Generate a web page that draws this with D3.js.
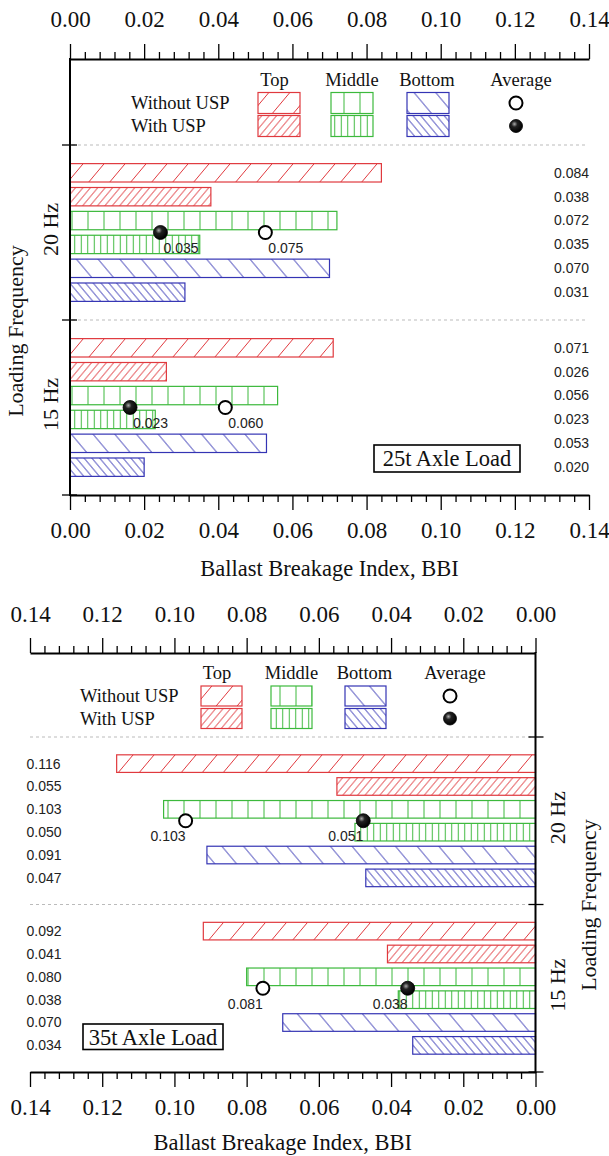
<!DOCTYPE html>
<html>
<head>
<meta charset="utf-8">
<script src="https://cdn.jsdelivr.net/npm/d3@7"></script>
<style>
  body { margin: 0; background: #fff; }
  text { font-family: "Liberation Serif", "Times New Roman", serif; fill: #111; }
  .val { font-family: "Liberation Sans", Arial, sans-serif; font-size: 14px; fill: #222; }
</style>
</head>
<body>
<script>
// ---- data ----
const zones = ["Top", "Middle", "Bottom"];
const conditions = ["Without USP", "With USP"];
const frequencies = ["20 Hz", "15 Hz"];
const majorTicks = [0, 0.02, 0.04, 0.06, 0.08, 0.10, 0.12, 0.14];
const minorTicks = [0.004, 0.008, 0.012, 0.016, 0.024, 0.028, 0.032, 0.036,
  0.044, 0.048, 0.052, 0.056, 0.064, 0.068, 0.072, 0.076, 0.084, 0.088, 0.092, 0.096,
  0.104, 0.108, 0.112, 0.116, 0.124, 0.128, 0.132, 0.136];

// rows: Top w/o, Top with, Middle w/o, Middle with, Bottom w/o, Bottom with
const bbi25at20 = [0.084, 0.038, 0.072, 0.035, 0.070, 0.031];
const bbi25at15 = [0.071, 0.026, 0.056, 0.023, 0.053, 0.020];
const bbi35at20 = [0.116, 0.055, 0.103, 0.050, 0.091, 0.047];
const bbi35at15 = [0.092, 0.041, 0.080, 0.038, 0.070, 0.034];

// average markers (where they are drawn) and the numbers printed next to them
const avg25Without = [0.0527, 0.0419];
const avg25With = [0.0244, 0.0162];
const avg25WithoutText = ["0.075", "0.060"];
const avg25WithText = ["0.035", "0.023"];
const avg35Without = [0.0969, 0.0755];
const avg35With = [0.0477, 0.0354];
const avg35WithoutText = ["0.103", "0.081"];
const avg35WithText = ["0.051", "0.038"];

// ---- styles ----
const zoneColor = { Top: "#e0393e", Middle: "#3cb93c", Bottom: "#3434b4" };
// hatch: spacing (px) and skew angle per zone/condition
const hatchStyle = {
  Top: [[21, -40], [7.4, -40]],
  Middle: [[16, 0], [6.5, 0]],
  Bottom: [[21.7, 40], [7.8, 40]]
};

const W = 609, H = 1156;
const svg = d3.select("body").append("svg").attr("width", W).attr("height", H);
const defs = svg.append("defs");

// patterns
zones.forEach(z => {
  hatchStyle[z].forEach(([sp, ang], i) => {
    const p = defs.append("pattern")
      .attr("id", `h-${z}-${i}`)
      .attr("patternUnits", "userSpaceOnUse")
      .attr("width", sp).attr("height", 40)
      .attr("patternTransform", `skewX(${ang})`);
    p.append("line")
      .attr("x1", sp / 2).attr("x2", sp / 2)
      .attr("y1", -1).attr("y2", 41)
      .attr("stroke", zoneColor[z]).attr("stroke-width", 1);
  });
});

// shiny black ball
const grad = defs.append("radialGradient").attr("id", "ball")
  .attr("cx", "38%").attr("cy", "35%").attr("r", "65%");
grad.append("stop").attr("offset", "0%").attr("stop-color", "#aaa");
grad.append("stop").attr("offset", "35%").attr("stop-color", "#222");
grad.append("stop").attr("offset", "100%").attr("stop-color", "#000");

const panels = [
  {
    flip: false, left: 70, right: 589, top: 59, sep: 145, bottom: 495,
    data: [bbi25at20, bbi25at15],
    avgWithout: avg25Without, avgWith: avg25With,
    avgWithoutText: avg25WithoutText, avgWithText: avg25WithText,
    tickLabelY: 19, tickLabelBottomY: 530, titleY: 568,
    freqX: 58, loadX: 23, loadY: 331,
    valueX: 589,
    legend: { labelX: 131, headerY: 80, rowY: [103, 126], swX: [258, 331, 407], swW: 42, swH: 21, avgX: 516 },
    box: { x: 374, y: 445, w: 146, h: 27, label: "25t Axle Load" }
  },
  {
    flip: true, left: 30, right: 535.5, top: 653, sep: 737, bottom: 1072,
    data: [bbi35at20, bbi35at15],
    avgWithout: avg35Without, avgWith: avg35With,
    avgWithoutText: avg35WithoutText, avgWithText: avg35WithText,
    tickLabelY: 614, tickLabelBottomY: 1107, titleY: 1142,
    freqX: 565, loadX: 596, loadY: 905,
    valueX: 26.5,
    legend: { labelX: 80, headerY: 673, rowY: [696, 718.5], swX: [201, 271, 345], swW: 41, swH: 20, avgX: 450 },
    box: { x: 83, y: 1024, w: 140, h: 25.5, label: "35t Axle Load" }
  }
];

const headerShift = [-4.5, 0, -1, 5];

function drawPanel(p) {
  const g = svg.append("g");
  const x = d3.scaleLinear()
    .domain(p.flip ? [0.14, 0] : [0, 0.14])
    .range([p.left, p.right]);
  const x0 = x(0);
  const yGroup = d3.scaleBand().domain(frequencies).range([p.sep, p.bottom]);
  const yRow = d3.scaleBand().domain(d3.range(6))
    .range([0, yGroup.bandwidth()])
    .paddingInner(0.23).paddingOuter(0.78);

  // dashed separators
  [p.sep, yGroup("15 Hz")].forEach(y => {
    g.append("line")
      .attr("x1", p.flip ? p.left : x0 + 2).attr("x2", p.flip ? x0 - 2 : p.right - 4)
      .attr("y1", y).attr("y2", y)
      .attr("stroke", "#bbb").attr("stroke-dasharray", "3,3").attr("stroke-width", 1);
  });

  // bars
  const rows = [];
  frequencies.forEach((f, fi) => {
    zones.forEach((z, zi) => {
      conditions.forEach((c, ci) => {
        const k = zi * 2 + ci;
        rows.push({ f, z, ci, k, v: p.data[fi][k] });
      });
    });
  });
  const yOf = d => yGroup(d.f) + yRow(d.k);

  g.selectAll("rect.bar").data(rows).enter().append("rect")
    .attr("class", "bar")
    .attr("x", d => Math.min(x0, x(d.v)))
    .attr("width", d => Math.abs(x(d.v) - x0))
    .attr("y", yOf)
    .attr("height", yRow.bandwidth())
    .attr("fill", d => `url(#h-${d.z}-${d.ci})`)
    .attr("stroke", d => zoneColor[d.z])
    .attr("stroke-width", 1.2);

  // value labels
  g.selectAll("text.val").data(rows).enter().append("text")
    .attr("class", "val")
    .attr("x", p.valueX)
    .attr("y", d => yOf(d) + yRow.bandwidth() / 2)
    .attr("dy", "0.35em")
    .attr("text-anchor", p.flip ? "start" : "end")
    .text(d => d.v.toFixed(3));

  // averages
  frequencies.forEach((f, fi) => {
    const ym = yGroup(f) + (yRow(2) + yRow(3) + yRow.bandwidth()) / 2;
    [[p.avgWithout[fi], p.avgWithoutText[fi], false], [p.avgWith[fi], p.avgWithText[fi], true]]
      .forEach(([v, t, filled]) => {
        const cx = x(v);
        g.append("circle")
          .attr("cx", cx).attr("cy", ym).attr("r", filled ? 7 : 6.5)
          .attr("fill", filled ? "url(#ball)" : "#fff")
          .attr("stroke", "#000").attr("stroke-width", filled ? 0.8 : 2);
        g.append("text").attr("class", "val")
          .attr("x", p.flip ? cx : cx + 3)
          .attr("y", ym + 15.5).attr("dy", "0.35em")
          .attr("text-anchor", p.flip ? "end" : "start")
          .text(t);
      });
  });

  // top axis
  const topAx = g.append("g").attr("transform", `translate(0,${p.top})`)
    .call(d3.axisTop(x).tickValues(majorTicks).tickFormat(d3.format(".2f")).tickSize(15).tickSizeOuter(0));
  g.append("g").attr("transform", `translate(0,${p.top})`)
    .call(d3.axisTop(x).tickValues(minorTicks).tickFormat("").tickSize(7).tickSizeOuter(0))
    .select(".domain").remove();
  const botAx = g.append("g").attr("transform", `translate(0,${p.bottom})`)
    .call(d3.axisBottom(x).tickValues(majorTicks).tickFormat(d3.format(".2f")).tickSize(15).tickSizeOuter(0));
  g.append("g").attr("transform", `translate(0,${p.bottom})`)
    .call(d3.axisBottom(x).tickValues(minorTicks).tickFormat("").tickSize(7).tickSizeOuter(0))
    .select(".domain").remove();

  topAx.selectAll("text").attr("y", p.tickLabelY - p.top).attr("dy", "0.35em");
  botAx.selectAll("text").attr("y", p.tickLabelBottomY - p.bottom).attr("dy", "0.35em");
  g.selectAll(".tick text")
    .style("font-family", '"Liberation Serif", serif').style("font-size", "23px").attr("fill", "#111");
  g.selectAll(".domain").attr("stroke", "#000").attr("stroke-width", 2);
  g.selectAll(".tick line").attr("stroke", "#000").attr("stroke-width", 1.3);

  // value axis line (left or right)
  g.append("line").attr("x1", x0).attr("x2", x0)
    .attr("y1", p.top - 1).attr("y2", p.bottom + 1)
    .attr("stroke", "#000").attr("stroke-width", 2);
  const out = p.flip ? 1 : -1;
  [p.sep, yGroup("15 Hz"), p.bottom].forEach(y => {
    g.append("line")
      .attr("x1", x0 + out * 8).attr("x2", x0 - out * 7)
      .attr("y1", y).attr("y2", y)
      .attr("stroke", "#000").attr("stroke-width", 1.3);
  });

  // axis title
  g.append("text")
    .attr("x", (p.left + p.right) / 2).attr("y", p.titleY).attr("dy", "0.35em")
    .attr("text-anchor", "middle").style("font-size", "22.5px")
    .text("Ballast Breakage Index, BBI");

  // frequency labels
  frequencies.forEach(f => {
    g.append("text")
      .attr("transform", `translate(${p.freqX},${yGroup(f) + yGroup.bandwidth() / 2 - 3}) rotate(-90)`)
      .attr("text-anchor", "middle").style("font-size", "22px")
      .text(f);
  });
  g.append("text")
    .attr("transform", `translate(${p.loadX},${p.loadY}) rotate(-90)`)
    .attr("text-anchor", "middle").style("font-size", "22px")
    .text("Loading Frequency");

  // legend
  const L = p.legend;
  zones.concat(["Average"]).forEach((h, i) => {
    const cx = i < 3 ? L.swX[i] + L.swW / 2 : L.avgX;
    g.append("text").attr("x", cx + headerShift[i]).attr("y", L.headerY).attr("dy", "0.35em")
      .attr("text-anchor", "middle").style("font-size", "18.5px").text(h);
  });
  conditions.forEach((c, ci) => {
    const ry = L.rowY[ci];
    g.append("text").attr("x", L.labelX).attr("y", ry).attr("dy", "0.35em")
      .style("font-size", "18.5px").text(c);
    zones.forEach((z, zi) => {
      g.append("rect")
        .attr("x", L.swX[zi]).attr("y", ry - L.swH / 2)
        .attr("width", L.swW).attr("height", L.swH)
        .attr("fill", `url(#h-${z}-${ci})`)
        .attr("stroke", zoneColor[z]).attr("stroke-width", 1.2);
    });
    g.append("circle").attr("cx", L.avgX).attr("cy", ry).attr("r", 6.5)
      .attr("fill", ci ? "url(#ball)" : "#fff")
      .attr("stroke", "#000").attr("stroke-width", ci ? 0.8 : 2);
  });

  // axle load box
  const B = p.box;
  g.append("rect").attr("x", B.x).attr("y", B.y).attr("width", B.w).attr("height", B.h)
    .attr("fill", "#fff").attr("stroke", "#000").attr("stroke-width", 1.6);
  g.append("text").attr("x", B.x + B.w / 2).attr("y", B.y + B.h / 2).attr("dy", "0.35em")
    .attr("text-anchor", "middle").style("font-size", "22.5px").text(B.label);
}

panels.forEach(drawPanel);
</script>
</body>
</html>
